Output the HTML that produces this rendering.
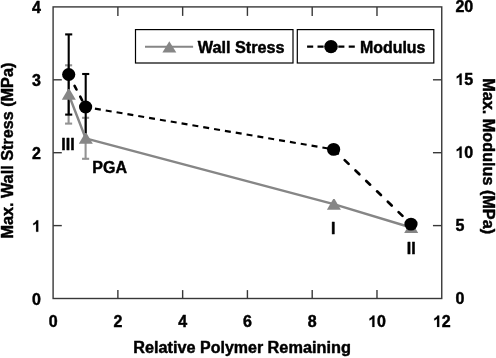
<!DOCTYPE html>
<html><head><meta charset="utf-8"><title>Chart</title>
<style>html,body{margin:0;padding:0;background:#fff;}svg{display:block;will-change:transform;}text{font-family:"Liberation Sans",sans-serif;font-weight:bold;font-size:16px;fill:#000;stroke:#000;stroke-width:0.45px;stroke-linejoin:round;}</style>
</head><body>
<svg width="496" height="358" viewBox="0 0 496 358">
<rect x="0" y="0" width="496" height="358" fill="#ffffff"/>
<rect x="53.1" y="6.9" width="388.65" height="291.60" fill="none" stroke="#383838" stroke-width="1.4"/>
<g stroke="#383838" stroke-width="1.4" fill="none">
<line x1="117.88" y1="298.5" x2="117.88" y2="290.10"/>
<line x1="117.88" y1="6.9" x2="117.88" y2="15.90"/>
<line x1="182.65" y1="298.5" x2="182.65" y2="290.10"/>
<line x1="182.65" y1="6.9" x2="182.65" y2="15.90"/>
<line x1="247.42" y1="298.5" x2="247.42" y2="290.10"/>
<line x1="247.42" y1="6.9" x2="247.42" y2="15.90"/>
<line x1="312.20" y1="298.5" x2="312.20" y2="290.10"/>
<line x1="312.20" y1="6.9" x2="312.20" y2="15.90"/>
<line x1="376.98" y1="298.5" x2="376.98" y2="290.10"/>
<line x1="376.98" y1="6.9" x2="376.98" y2="15.90"/>
<line x1="53.1" y1="225.60" x2="61.80" y2="225.60"/>
<line x1="441.75" y1="225.60" x2="432.95" y2="225.60"/>
<line x1="53.1" y1="152.70" x2="61.80" y2="152.70"/>
<line x1="441.75" y1="152.70" x2="432.95" y2="152.70"/>
<line x1="53.1" y1="79.80" x2="61.80" y2="79.80"/>
<line x1="441.75" y1="79.80" x2="432.95" y2="79.80"/>
</g>
<text x="32.00" y="304.70">0</text>
<text x="455.40" y="303.70">0</text>
<path transform="translate(32.00,231.80) scale(0.007812,-0.007812)" d="M806 0H525V1059Q371 915 162 846V1101Q272 1137 401 1237.5T578 1472H806V0Z" fill="#000" stroke="#000" stroke-width="20"/>
<text x="455.40" y="230.80">5</text>
<text x="32.00" y="158.90">2</text>
<path transform="translate(455.40,157.90) scale(0.007812,-0.007812)" d="M806 0H525V1059Q371 915 162 846V1101Q272 1137 401 1237.5T578 1472H806V0Z" fill="#000" stroke="#000" stroke-width="20"/><text x="464.30" y="157.90">0</text>
<text x="32.00" y="86.00">3</text>
<path transform="translate(455.40,85.00) scale(0.007812,-0.007812)" d="M806 0H525V1059Q371 915 162 846V1101Q272 1137 401 1237.5T578 1472H806V0Z" fill="#000" stroke="#000" stroke-width="20"/><text x="464.30" y="85.00">5</text>
<text x="32.00" y="13.10">4</text>
<text x="455.40" y="12.10">2</text><text x="464.30" y="12.10">0</text>
<text x="48.75" y="327.00">0</text>
<text x="113.53" y="327.00">2</text>
<text x="178.30" y="327.00">4</text>
<text x="243.08" y="327.00">6</text>
<text x="307.85" y="327.00">8</text>
<path transform="translate(368.18,327.00) scale(0.007812,-0.007812)" d="M806 0H525V1059Q371 915 162 846V1101Q272 1137 401 1237.5T578 1472H806V0Z" fill="#000" stroke="#000" stroke-width="20"/><text x="377.08" y="327.00">0</text>
<path transform="translate(432.95,327.00) scale(0.007812,-0.007812)" d="M806 0H525V1059Q371 915 162 846V1101Q272 1137 401 1237.5T578 1472H806V0Z" fill="#000" stroke="#000" stroke-width="20"/><text x="441.85" y="327.00">2</text>
<text x="133.3" y="353.3" textLength="62.3" lengthAdjust="spacingAndGlyphs">Relative</text>
<text x="200.1" y="353.3" textLength="63.1" lengthAdjust="spacingAndGlyphs">Polymer</text>
<text x="267.6" y="353.3" textLength="83.3" lengthAdjust="spacingAndGlyphs">Remaining</text>
<text transform="translate(12.8,238.6) rotate(-90)" textLength="175.9" lengthAdjust="spacingAndGlyphs">Max. Wall Stress (MPa)</text>
<text transform="translate(483,78.3) rotate(90)" textLength="155.8" lengthAdjust="spacingAndGlyphs">Max. Modulus (MPa)</text>
<g stroke="#939393" stroke-width="2.1" fill="none"><line x1="68.6" y1="65.3" x2="68.6" y2="123.6"/><line x1="65.05" y1="65.3" x2="72.14999999999999" y2="65.3"/><line x1="65.05" y1="123.6" x2="72.14999999999999" y2="123.6"/></g>
<g stroke="#939393" stroke-width="2.1" fill="none"><line x1="85.6" y1="117.8" x2="85.6" y2="158.8"/><line x1="82.05" y1="117.8" x2="89.14999999999999" y2="117.8"/><line x1="82.05" y1="158.8" x2="89.14999999999999" y2="158.8"/></g>
<g stroke="#000" stroke-width="2.1" fill="none"><line x1="68.7" y1="34.4" x2="68.7" y2="114.6"/><line x1="65.15" y1="34.4" x2="72.25" y2="34.4"/><line x1="65.15" y1="114.6" x2="72.25" y2="114.6"/></g>
<g stroke="#000" stroke-width="2.1" fill="none"><line x1="85.7" y1="74.0" x2="85.7" y2="140.0"/><line x1="82.15" y1="74.0" x2="89.25" y2="74.0"/><line x1="82.15" y1="140.0" x2="89.25" y2="140.0"/></g>
<polyline points="68.6,94.3 85.6,138.3 333.7,204.2 411.0,227.5" fill="none" stroke="#868686" stroke-width="2.4" stroke-linejoin="round"/>
<polygon points="68.10,89.00 69.50,89.00 75.80,99.80 61.80,99.80" fill="#868686"/>
<polygon points="85.10,133.00 86.50,133.00 92.80,143.80 78.80,143.80" fill="#868686"/>
<polygon points="333.20,198.90 334.60,198.90 340.90,209.70 326.90,209.70" fill="#868686"/>
<polygon points="410.50,222.20 411.90,222.20 418.20,233.00 404.20,233.00" fill="#868686"/>
<line x1="68.7" y1="74.5" x2="85.6" y2="107.0" stroke="#000" stroke-width="2.6" stroke-dasharray="4.17 8.12" stroke-dashoffset="-0.45" stroke-linecap="round"/>
<line x1="85.6" y1="107.0" x2="333.6" y2="149.4" stroke="#000" stroke-width="2.15" stroke-dasharray="5.99 5.00" stroke-dashoffset="1.55" stroke-linecap="butt"/>
<line x1="333.6" y1="149.4" x2="411.0" y2="224.1" stroke="#000" stroke-width="2.7" stroke-dasharray="5.42 9.56" stroke-dashoffset="-0.44" stroke-linecap="round"/>
<ellipse cx="68.7" cy="74.5" rx="6.6" ry="6.4" fill="#000"/>
<ellipse cx="85.6" cy="107.0" rx="6.6" ry="6.4" fill="#000"/>
<ellipse cx="333.6" cy="149.4" rx="6.6" ry="6.4" fill="#000"/>
<ellipse cx="411.0" cy="224.1" rx="6.6" ry="6.4" fill="#000"/>
<text x="61.3" y="149.6">III</text>
<text x="92.3" y="173.0">PGA</text>
<text x="333.3" y="233.9" text-anchor="middle">I</text>
<text x="411.2" y="253.9" text-anchor="middle">II</text>
<rect x="135.5" y="29.6" width="157.5" height="33.4" fill="#fff" stroke="#000" stroke-width="1.2"/>
<rect x="297.3" y="29.6" width="136.5" height="33.4" fill="#fff" stroke="#000" stroke-width="1.2"/>
<line x1="145" y1="46.7" x2="193.1" y2="46.7" stroke="#868686" stroke-width="2.1"/>
<polygon points="169.3,41.2 176.3,52.5 162.4,52.5" fill="#868686"/>
<text x="197.7" y="52.5" textLength="86.9" lengthAdjust="spacingAndGlyphs">Wall Stress</text>
<line x1="307.1" y1="46.6" x2="354.8" y2="46.6" stroke="#000" stroke-width="2.2" stroke-dasharray="6.1 4.3"/>
<ellipse cx="331" cy="46.6" rx="6.8" ry="6.6" fill="#000"/>
<text x="360.0" y="52.5" textLength="65.4" lengthAdjust="spacingAndGlyphs">Modulus</text>
</svg>
</body></html>
